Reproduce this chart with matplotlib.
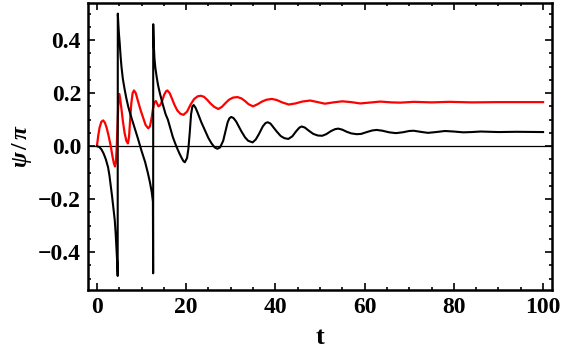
import matplotlib
matplotlib.use("Agg")
import matplotlib.pyplot as plt
from matplotlib.ticker import MultipleLocator

# black curve (t, psi/pi)
t_black = [0, 0.5, 1.0, 1.5, 2.0, 2.5, 2.8, 3.1, 3.4, 3.7, 4.0, 4.2, 4.4, 4.55, 4.65,
           4.68, 4.8, 4.95, 5.1, 5.3, 5.5, 5.8, 6.2, 6.6, 7.0, 7.5, 8.1, 8.7, 9.2, 9.6,
           10.0, 10.8, 11.4, 11.9, 12.3, 12.55, 12.6,
           12.62, 12.75, 12.9, 13.1, 13.4, 13.7, 14.1, 14.8, 15.4, 15.9, 16.5, 17.0,
           17.5, 17.9, 18.5, 19.0, 19.4, 19.7,
           20.2, 20.5, 20.8, 21.1, 21.4, 21.7, 22.1, 22.6, 23.4, 24.2, 25.0, 25.7,
           26.4, 27.0, 27.6, 28.3, 28.8, 29.3, 29.7, 30.1, 30.6, 31.2, 32.4, 33.2,
           33.9, 34.9, 35.6, 36.3, 37.2, 37.8, 38.3, 38.9, 39.6, 40.3, 41.2, 42.0,
           42.9, 43.8, 44.7, 45.4, 45.9, 46.6, 47.5, 48.5, 49.5, 50.5, 51.4, 52.5,
           53.4, 54.1, 55.0, 56.0, 57.0, 58.2, 59.2, 60.5, 61.7, 62.7, 64.0, 65.5,
           67.0, 68.5, 70.0, 71.0, 72.5, 74.2, 76.0, 78.0, 80.0, 82.1, 84.0, 86.0,
           88.0, 90.0, 94.0, 100.0]
psi_black = [0, -0.003, -0.012, -0.028, -0.05, -0.08, -0.11, -0.15, -0.19, -0.235, -0.28, -0.33, -0.39, -0.44, -0.49,
             0.50, 0.46, 0.42, 0.39, 0.34, 0.30, 0.255, 0.215, 0.18, 0.15, 0.12, 0.088, 0.055, 0.028, 0.005,
             -0.018, -0.06, -0.10, -0.138, -0.175, -0.21, -0.48,
             0.46, 0.38, 0.33, 0.295, 0.26, 0.23, 0.20, 0.155, 0.12, 0.10, 0.065, 0.035,
             0.012, -0.005, -0.028, -0.045, -0.057, -0.061,
             -0.045, -0.01, 0.05, 0.12, 0.15, 0.155, 0.145, 0.125, 0.09, 0.06, 0.03, 0.01,
             -0.005, -0.01, -0.005, 0.02, 0.055, 0.09, 0.105, 0.11, 0.106, 0.093, 0.055, 0.033,
             0.02, 0.014, 0.025, 0.045, 0.075, 0.087, 0.09, 0.085, 0.07, 0.055, 0.038, 0.03,
             0.027, 0.037, 0.057, 0.07, 0.074, 0.07, 0.058, 0.046, 0.04, 0.039, 0.045, 0.057,
             0.064, 0.066, 0.062, 0.054, 0.048, 0.045, 0.046, 0.053, 0.059, 0.061, 0.058, 0.052,
             0.049, 0.052, 0.057, 0.058, 0.054, 0.05, 0.053, 0.057, 0.055, 0.052, 0.053, 0.055,
             0.054, 0.053, 0.054, 0.053]

# red curve (t, psi/pi)
t_red = [0, 0.3, 0.6, 1.0, 1.4, 1.8, 2.2, 2.6, 3.1, 3.5, 3.8, 4.05, 4.25, 4.45, 4.6, 4.75,
         4.9, 5.0, 5.2, 5.5, 5.8, 6.2, 6.6, 6.95, 7.2, 7.45, 7.7, 8.0, 8.3, 8.7, 9.2, 9.8,
         10.3, 10.9, 11.5, 11.9, 12.3, 12.6, 12.9, 13.2, 13.5, 13.8, 14.2, 14.6, 15.1, 15.5,
         15.8, 16.3, 16.8, 17.4, 18.0, 18.7, 19.4, 20.2, 21.0, 21.8, 22.6, 23.3, 24.0, 24.7,
         25.5, 26.3, 27.2, 28.0, 28.8, 29.6, 30.5, 31.5, 32.4, 33.2, 34.0, 35.0, 36.0, 37.0,
         38.0, 39.2, 40.3, 41.5, 43.0, 44.5, 46.0, 47.8, 49.5, 51.1, 53.0, 55.0, 57.0, 59.0,
         61.0, 63.5, 66.0, 68.0, 71.0, 75.0, 79.0, 84.0, 90.0, 100.0]
psi_red = [0, 0.04, 0.07, 0.092, 0.097, 0.088, 0.068, 0.04, 0.0, -0.04, -0.065, -0.077, -0.06, 0.0, 0.07, 0.14,
           0.19, 0.197, 0.18, 0.14, 0.096, 0.05, 0.02, 0.01, 0.035, 0.10, 0.16, 0.20, 0.21, 0.20, 0.17, 0.135,
           0.11, 0.08, 0.067, 0.075, 0.11, 0.145, 0.165, 0.17, 0.16, 0.15, 0.155, 0.17, 0.195, 0.207,
           0.21, 0.20, 0.18, 0.155, 0.135, 0.122, 0.118, 0.13, 0.157, 0.178, 0.188, 0.19, 0.186, 0.175,
           0.16, 0.148, 0.14, 0.148, 0.162, 0.175, 0.183, 0.185, 0.18, 0.17, 0.158, 0.15, 0.158, 0.168,
           0.175, 0.178, 0.174, 0.165, 0.157, 0.161, 0.168, 0.172, 0.166, 0.16, 0.165, 0.169, 0.166, 0.161,
           0.164, 0.168, 0.165, 0.164, 0.167, 0.165, 0.167, 0.165, 0.166, 0.166]

x_ticks = [0, 20, 40, 60, 80, 100]
y_ticks = [-0.4, -0.2, 0.0, 0.2, 0.4]

plt.rcParams['font.family'] = ['Liberation Serif', 'DejaVu Serif']
plt.rcParams['mathtext.fontset'] = 'custom'
plt.rcParams['mathtext.it'] = 'Liberation Serif:italic:bold'
plt.rcParams['mathtext.rm'] = 'Liberation Serif:bold'

fig = plt.figure(figsize=(5.64, 3.56), dpi=100)
ax = fig.add_axes([88/564, 1-290/356, (552-88)/564, (290-3)/356])

ax.axhline(0, color='black', lw=0.9, zorder=1)
ax.plot(t_black, psi_black, color='black', lw=1.5, zorder=3)
ax.plot(t_red, psi_red, color='red', lw=1.6, zorder=2)

ax.set_xlim(-2.0, 102.0)
ax.set_ylim(-0.543, 0.54)
ax.set_xticks(x_ticks)
ax.set_yticks(y_ticks)
ax.set_xticklabels([str(v) for v in x_ticks])
ax.set_yticklabels([f"{v:.1f}".replace('-', '\u2212') for v in y_ticks])
ax.xaxis.set_minor_locator(MultipleLocator(5))
ax.yaxis.set_minor_locator(MultipleLocator(0.05))
ax.tick_params(which='both', direction='in', top=True, right=True, width=1.2)
ax.tick_params(which='major', length=5, labelsize=17, pad=5)
ax.tick_params(which='minor', length=2.5)
for lbl in ax.get_xticklabels() + ax.get_yticklabels():
    lbl.set_fontweight('bold')
for s in ax.spines.values():
    s.set_linewidth(1.8)

ax.set_xlabel('t', fontsize=19, fontweight='bold', labelpad=6)
ax.set_ylabel(r'$\psi\,/\,\pi$', fontsize=17, labelpad=3)

fig.savefig('out.png', dpi=100)
